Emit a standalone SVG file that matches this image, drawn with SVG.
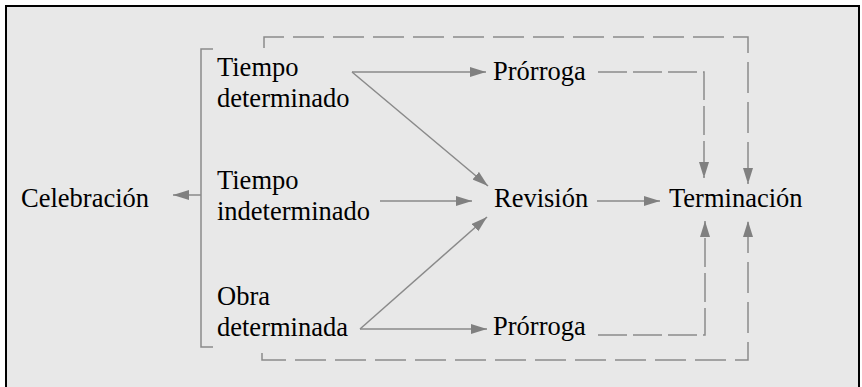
<svg xmlns="http://www.w3.org/2000/svg" width="862" height="387" viewBox="0 0 862 387">
<style>
text{font-size:26.5px;fill:#000}
.ln{fill:none;stroke:#8a8a8a;stroke-width:1.5}
.ds{fill:none;stroke:#8a8a8a;stroke-width:1.5;stroke-dasharray:31 9}
.ds2{fill:none;stroke:#8a8a8a;stroke-width:1.5;stroke-dasharray:29 6}
</style>
<defs>
<marker id="ah" markerUnits="userSpaceOnUse" markerWidth="17" markerHeight="11" refX="16" refY="5" orient="auto">
<path d="M0,0 L16,5 L0,10 z" fill="#808080"/>
</marker>
</defs>
<rect x="0" y="0" width="862" height="387" fill="#fff"/>
<rect id="frame" x="6" y="6" width="853" height="400" fill="#e8e8e8" stroke="#000" stroke-width="2"/>
<g id="connectors">
<path class="ln" d="M213,49 H201 V347 H213"/>
<path class="ln" d="M201,195 H173" marker-end="url(#ah)"/>
<path class="ln" d="M352,72 H486" marker-end="url(#ah)"/>
<path class="ln" d="M352,72 L488,186" marker-end="url(#ah)"/>
<path class="ln" d="M380,201 H472" marker-end="url(#ah)"/>
<path class="ln" d="M360,329 L487,217" marker-end="url(#ah)"/>
<path class="ln" d="M360,329 H487" marker-end="url(#ah)"/>
<path class="ln" d="M597,201 H660" marker-end="url(#ah)"/>
<path class="ds2" d="M598,72 H704 V178" marker-end="url(#ah)"/>
<path class="ds" d="M264,48 V37 H748 V184" marker-end="url(#ah)"/>
<path class="ds2" d="M598,335 H705 V221" marker-end="url(#ah)"/>
<path class="ds" d="M262,353 V360 H748 V221" marker-end="url(#ah)"/>
</g>
<g id="celebracion"><text x="21" y="207" font-family="serif">Celebración</text></g>
<g id="tiempo-determinado"><text x="217" y="76" font-family="serif">Tiempo</text><text x="217" y="107" font-family="serif">determinado</text></g>
<g id="tiempo-indeterminado"><text x="217" y="189" font-family="serif">Tiempo</text><text x="217" y="220" font-family="serif">indeterminado</text></g>
<g id="obra-determinada"><text x="217" y="305" font-family="serif">Obra</text><text x="217" y="336" font-family="serif">determinada</text></g>
<g id="prorroga-top"><text x="493" y="80" font-family="serif">Prórroga</text></g>
<g id="revision"><text x="494" y="207" font-family="serif">Revisión</text></g>
<g id="terminacion"><text x="669" y="207" font-family="serif">Terminación</text></g>
<g id="prorroga-bottom"><text x="493" y="335" font-family="serif">Prórroga</text></g>
</svg>
